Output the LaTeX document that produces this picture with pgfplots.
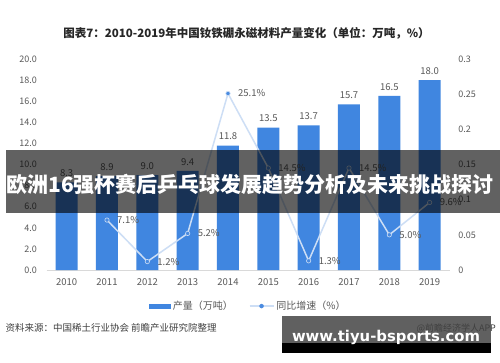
\documentclass[border=0pt]{standalone}
\usepackage{pgfplots}
\pgfplotsset{compat=1.18}
\usepackage{graphicx}
\usepackage{fontspec}
\setmainfont{Noto Sans CJK SC}
\newfontfamily\wm{DejaVu Sans}
\definecolor{barblue}{RGB}{64,134,224}
\definecolor{lineblue}{RGB}{205,222,245}
\definecolor{dotblue}{RGB}{74,139,224}
\definecolor{txtgray}{RGB}{89,89,89}
\definecolor{axgray}{RGB}{217,217,217}
\definecolor{titlegray}{RGB}{38,38,38}
\definecolor{srcgray}{RGB}{64,64,64}
\definecolor{boxgray}{RGB}{96,96,96}
\begin{document}
\begin{tikzpicture}[x=1pt,y=1pt]
\useasboundingbox (0,0) rectangle (500,362);
\fill[white] (0,0) rectangle (500,362);
\begin{axis}[
  at={(46.5pt,92pt)}, anchor=south west, scale only axis,
  width=403.3pt, height=211pt,
  xmin=-0.5, xmax=9.5, ymin=0, ymax=20,
  axis x line*=bottom, axis y line*=left,
  x axis line style={draw=axgray, line width=0.8pt, -},
  y axis line style={draw=none},
  major tick length=0pt,
  /pgf/number format/assume math mode=true,
  xtick={0,1,2,3,4,5,6,7,8,9},
  xticklabels={2010,2011,2012,2013,2014,2015,2016,2017,2018,2019},
  ytick={0,2,4,6,8,10,12,14,16,18,20},
  yticklabels={0.0,2.0,4.0,6.0,8.0,10.0,12.0,14.0,16.0,18.0,20.0},
  yticklabel style={xshift=-6pt, font=\fontsize{9}{10}\selectfont, text=txtgray},
  xticklabel style={yshift=-5pt, font=\fontsize{9.5}{10}\selectfont, text=txtgray},
  legend style={at={(0.5,-0.171)}, anchor=center, draw=none, fill=none,
    legend columns=2, font=\fontsize{10}{11}\selectfont, text=txtgray,
    /tikz/every even column/.append style={column sep=14pt}},
  legend cell align=left,
]
\addplot[ybar, bar width=22pt, fill=barblue, draw=none,
  nodes near coords, point meta=explicit symbolic,
  every node near coord/.append style={font=\fontsize{9.5}{10}\selectfont, text=txtgray, yshift=2pt},
  legend image code/.code={\fill[barblue] (0pt,-2.5pt) rectangle (22pt,2.5pt);}]
  coordinates {(0,8.3)[8.3] (1,8.9)[8.9] (2,9.0)[9.0] (3,9.4)[9.4] (4,11.8)[11.8]
               (5,13.5)[13.5] (6,13.7)[13.7] (7,15.7)[15.7] (8,16.5)[16.5] (9,18.0)[18.0]};
\addlegendentry{产量（万吨）}
\addlegendimage{legend image code/.code={\draw[lineblue, line width=1.5pt] (0pt,0pt) -- (24pt,0pt); \fill[dotblue] (12pt,0pt) circle (2pt);}}
\addlegendentry{同比增速（\%）}
\end{axis}
\begin{axis}[
  at={(46.5pt,92pt)}, anchor=south west, scale only axis,
  width=403.3pt, height=211pt,
  xmin=-0.5, xmax=9.5, ymin=0, ymax=0.3,
  axis x line=none, axis y line*=right,
  y axis line style={draw=none},
  major tick length=0pt,
  /pgf/number format/assume math mode=true,
  ytick={0,0.05,0.1,0.15,0.2,0.25,0.3},
  yticklabels={0,0.05,0.1,0.15,0.2,0.25,0.3},
  yticklabel style={xshift=5pt, font=\fontsize{9}{10}\selectfont, text=txtgray},
]
\addplot[color=lineblue, line width=1.5pt, mark=*, mark size=2.2pt,
  mark options={fill=dotblue, draw=lineblue, line width=0.6pt},
  nodes near coords, point meta=explicit symbolic,
  every node near coord/.append style={anchor=west, xshift=6.5pt, font=\fontsize{9.5}{10}\selectfont, text=txtgray}]
  coordinates {(1,0.071)[7.1\%] (2,0.012)[1.2\%] (3,0.052)[5.2\%] (4,0.251)[25.1\%]
               (5,0.145)[14.5\%] (6,0.013)[1.3\%] (7,0.145)[14.5\%] (8,0.050)[5.0\%] (9,0.096)[9.6\%]};
\end{axis}
\node[font=\bfseries\fontsize{11.5}{12}\selectfont, text=titlegray] at (246.5,329)
  {图表7：2010-2019年中国钕铁硼永磁材料产量变化（单位：万吨，\%）};
\fill[black, fill opacity=0.62] (6,149.3) rectangle (500,212);
\node[text=white, font=\bfseries\fontsize{21}{22}\selectfont] at (250,178)
  {欧洲16强杯赛后乒乓球发展趋势分析及未来挑战探讨};
\node[anchor=west, font=\fontsize{9.5}{10}\selectfont, text=srcgray] at (2,34)
  {资料来源：中国稀土行业协会\ 前瞻产业研究院整理};
\fill[boxgray] (282,19.3) rectangle (490.7,46.3);
\fill[black] (282,9.3) rectangle (490.7,19.3);
\node[anchor=west, font=\fontsize{9}{10}\selectfont, text=srcgray] at (413,34) {@前瞻经济学人APP};
\node[inner sep=0pt, text=white] at (386,25) {\resizebox{188pt}{!}{\wm\bfseries www.tiyu-bsports.com}};
\end{tikzpicture}
\end{document}
